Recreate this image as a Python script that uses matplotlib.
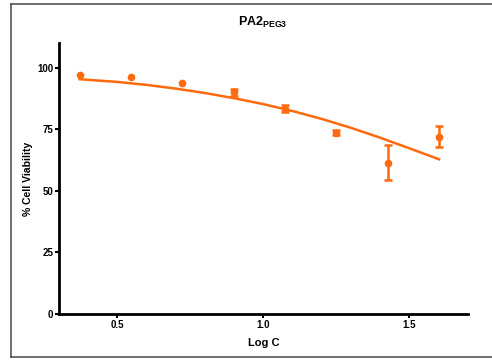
import matplotlib.pyplot as plt
from matplotlib.lines import Line2D

plt.rcParams['font.family'] = 'Liberation Sans'
plt.rcParams['font.weight'] = 'bold'
plt.rcParams['mathtext.fontset'] = 'custom'
plt.rcParams['mathtext.bf'] = 'Liberation Sans:bold'
plt.rcParams['mathtext.rm'] = 'Liberation Sans:bold'

# log concentration vs % viability (mean, SEM)
log_c = [0.371, 0.547, 0.723, 0.899, 1.075, 1.251, 1.427, 1.603]
viability = [96.9, 96.0, 93.6, 90.0, 83.4, 73.6, 61.4, 72.0]
sem = [0.0, 0.0, 0.0, 1.4, 1.4, 0.9, 7.0, 4.3]

# fitted dose-response curve
fit_x = [0.371, 0.5, 0.6, 0.7, 0.8, 0.9, 1.0, 1.1, 1.2, 1.3, 1.4, 1.5, 1.603]
fit_y = [95.3, 94.2, 93.0, 91.5, 89.7, 87.6, 85.2, 82.4, 79.2, 75.6, 71.6, 67.3, 62.8]

orange = '#ff6a0d'

fig = plt.figure(figsize=(4.92, 3.61), dpi=100)
# open frame: left, top and bottom edges only
x0, x1, y0, y1 = 10.5 / 492, 1.0, 1 - 357 / 361, 1 - 3.5 / 361
for xs, ys in [([x0, x0], [y0, y1]), ([x0, x1], [y1, y1]), ([x0, x1], [y0, y0])]:
    fig.add_artist(Line2D(xs, ys, color='#555555', linewidth=1.2, transform=fig.transFigure))

ax = fig.add_axes([59 / 492, 1 - 314 / 361, 409 / 492, 271 / 361])

ax.plot(fit_x, fit_y, color=orange, linewidth=1.8, zorder=2)
ax.plot(log_c, viability, 'o', color=orange, markersize=4.5, zorder=3)
# only points with a visible SEM get bars
idx = [i for i, s in enumerate(sem) if s > 0]
ax.errorbar([log_c[i] for i in idx], [viability[i] for i in idx], yerr=[sem[i] for i in idx],
            fmt='none', ecolor=orange, elinewidth=1.8, capsize=3, capthick=1.8, zorder=3)

ax.set_xlim(0.3, 1.702)
ax.set_ylim(0, 110)
ax.set_xticks([0.5, 1.0, 1.5])
ax.set_xticklabels(['0.5', '1.0', '1.5'])
ax.set_yticks([0, 25, 50, 75, 100])

for side in ['top', 'right']:
    ax.spines[side].set_visible(False)
for side in ['left', 'bottom']:
    ax.spines[side].set_linewidth(2)
ax.tick_params(direction='out', length=3, width=1.5, labelsize=7, pad=1)

ax.set_xlabel('Log C', fontsize=8, fontweight='bold', labelpad=6)
ax.set_ylabel('% Cell Viability', fontsize=7.5, fontweight='bold', labelpad=3)
fig.text(263 / 492, 1 - 22 / 361, r'$\mathbf{PA2_{PEG3}}$', fontsize=9, ha='center', va='center')

fig.savefig('out.png', dpi=100)
